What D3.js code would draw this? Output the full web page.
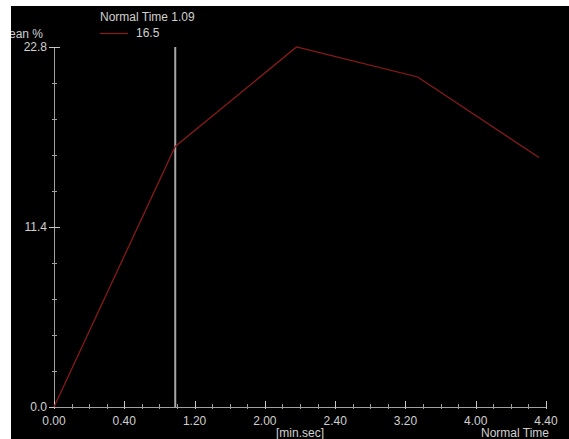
<!DOCTYPE html>
<html>
<head>
<meta charset="utf-8">
<script src="https://cdn.jsdelivr.net/npm/d3@7"></script>
<style>
  html, body { margin: 0; padding: 0; background: #ffffff; }
  svg { display: block; }
  text { font-family: "Liberation Sans", Arial, sans-serif; font-size: 12px; fill: #d0d0d0; }
</style>
</head>
<body>
<svg id="chart" width="569" height="439"></svg>
<script>
// Normal Time in seconds, Mean % per sample
const timesSec = [0, 69, 138, 207, 276];
const meanPct = [0, 16.5, 22.8, 20.9, 15.8];
const xTickSec = [0, 40, 80, 120, 160, 200, 240, 280];
const xTickLabels = ["0.00", "0.40", "1.20", "2.00", "2.40", "3.20", "4.00", "4.40"];
const yTickValues = [0, 11.4, 22.8];
const yTickLabels = ["0.0", "11.4", "22.8"];
const cursorSec = 69;
const cursorLabel = "Normal Time 1.09";
const cursorValueLabel = "16.5";

const svg = d3.select("#chart");
const W = 569, H = 439;
const axisColor = "#a0a0a0";
const lineColor = "#8e1a1a";

// plot panel
svg.append("rect").attr("x", 11).attr("y", 6).attr("width", W - 11).attr("height", H - 6).attr("fill", "#000");

const x = d3.scaleLinear().domain([0, 280]).range([54, 546]);
const y = d3.scaleLinear().domain([0, 22.8]).range([407, 47]);

svg.append("clipPath").attr("id", "panel")
  .append("rect").attr("x", 11).attr("y", 6).attr("width", W - 11).attr("height", H - 6);
const g = svg.append("g").attr("clip-path", "url(#panel)");

// y axis
g.append("line").attr("x1", x(0) + 0.5).attr("x2", x(0) + 0.5).attr("y1", y(22.8)).attr("y2", y(0))
  .attr("stroke", axisColor).attr("stroke-width", 1);
const yMinor = d3.range(0, 11).map(i => i * 2.28);
g.selectAll(".ymin").data(yMinor).join("line")
  .attr("x1", x(0) - 2).attr("x2", x(0) + 3)
  .attr("y1", d => Math.round(y(d)) + 0.5).attr("y2", d => Math.round(y(d)) + 0.5)
  .attr("stroke", axisColor);
g.selectAll(".ymaj").data(yTickValues).join("line")
  .attr("x1", x(0) - 5).attr("x2", x(0) + 6)
  .attr("y1", d => Math.round(y(d)) + 0.5).attr("y2", d => Math.round(y(d)) + 0.5)
  .attr("stroke", "#c8c8c8");
g.selectAll(".ylab").data(yTickValues).join("text")
  .attr("x", x(0) - 7).attr("y", d => y(d) + 4)
  .attr("text-anchor", "end").text((d, i) => yTickLabels[i]);
g.append("text").attr("x", 43).attr("y", 38).attr("text-anchor", "end").text("Mean %");

// x axis
g.append("line").attr("x1", x(0)).attr("x2", x(280)).attr("y1", y(0) + 0.5).attr("y2", y(0) + 0.5)
  .attr("stroke", axisColor);
const xMinor = d3.range(0, 29).map(i => i * 10);
g.selectAll(".xmin").data(xMinor).join("line")
  .attr("x1", d => Math.round(x(d)) + 0.5).attr("x2", d => Math.round(x(d)) + 0.5)
  .attr("y1", y(0) - 3).attr("y2", y(0) + 2)
  .attr("stroke", axisColor);
g.selectAll(".xmaj").data(xTickSec).join("line")
  .attr("x1", d => Math.round(x(d)) + 0.5).attr("x2", d => Math.round(x(d)) + 0.5)
  .attr("y1", y(0) - 6).attr("y2", y(0) + 2)
  .attr("stroke", "#c8c8c8");
g.selectAll(".xlab").data(xTickSec).join("text")
  .attr("x", d => x(d)).attr("y", 425)
  .attr("text-anchor", "middle").text((d, i) => xTickLabels[i]);
g.append("text").attr("x", 300).attr("y", 437).attr("text-anchor", "middle").text("[min.sec]");
g.append("text").attr("x", 549).attr("y", 437).attr("text-anchor", "end").text("Normal Time");

// cursor
g.append("line").attr("x1", x(cursorSec)).attr("x2", x(cursorSec)).attr("y1", y(22.8)).attr("y2", y(0))
  .attr("stroke", "#a8a8a8").attr("stroke-width", 2);

// series line
const line = d3.line().x((d, i) => x(timesSec[i])).y(d => y(d));
g.append("path").datum(meanPct).attr("d", line)
  .attr("fill", "none").attr("stroke", lineColor).attr("stroke-width", 1.2);

// legend
g.append("text").attr("x", 100).attr("y", 21).text(cursorLabel);
g.append("line").attr("x1", 100).attr("x2", 128).attr("y1", 33.5).attr("y2", 33.5)
  .attr("stroke", lineColor).attr("stroke-width", 1.2);
g.append("text").attr("x", 136).attr("y", 37).text(cursorValueLabel);
</script>
</body>
</html>
